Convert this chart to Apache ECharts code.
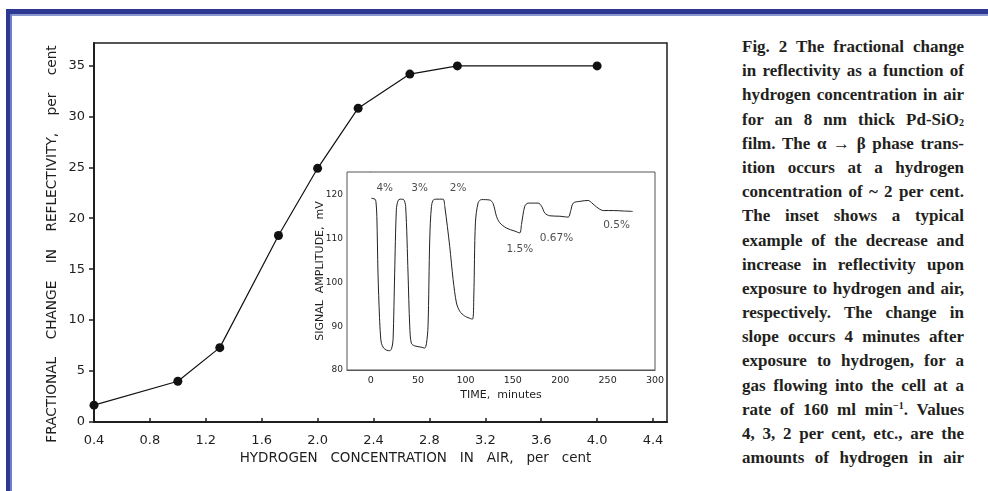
<!DOCTYPE html>
<html>
<head>
<meta charset="utf-8">
<script src="https://cdn.jsdelivr.net/npm/echarts@6/dist/echarts.min.js"></script>
<style>
  body { margin: 0; background: #fff; }
  .page { position: relative; width: 988px; height: 491px; overflow: hidden; background: #fff; }
  .bar-top { position: absolute; left: 6px; top: 9px; width: 982px; height: 5px; background: #2d3892; }
  .bar-top-edge { position: absolute; left: 10px; top: 14px; width: 978px; height: 2px; background: #8b97cf; }
  .bar-left { position: absolute; left: 6px; top: 9px; width: 4px; height: 482px; background: #2d3892; }
  .bar-left-edge { position: absolute; left: 10px; top: 14px; width: 2px; height: 477px; background: #6f7fc6; }
  #chart { position: absolute; left: 0; top: 0; width: 740px; height: 491px; }
  .caption {
    position: absolute; left: 742px; top: 35px; width: 222px;
    font-family: "Liberation Serif", "DejaVu Serif", serif; font-weight: bold;
    font-size: 17px; line-height: 24.2px; color: #231f20;
  }
  .caption div { text-align: justify; text-align-last: justify; height: 24.2px; white-space: nowrap; }
  .caption sub { font-size: 10px; vertical-align: -1px; line-height: 0; }
  .caption sup { font-size: 10px; vertical-align: 6px; line-height: 0; }
</style>
</head>
<body>
<div class="page">
  <div class="bar-top"></div>
  <div class="bar-top-edge"></div>
  <div class="bar-left"></div>
  <div class="bar-left-edge"></div>
  <div id="chart"></div>
  <div class="caption">
    <div>Fig. 2 The fractional change</div>
    <div>in reflectivity as a function of</div>
    <div>hydrogen concentration in air</div>
    <div>for an 8 nm thick Pd-SiO<sub>2</sub></div>
    <div>film. The &alpha; &rarr; &beta; phase trans-</div>
    <div>ition occurs at a hydrogen</div>
    <div>concentration of ~ 2 per cent.</div>
    <div>The inset shows a typical</div>
    <div>example of the decrease and</div>
    <div>increase in reflectivity upon</div>
    <div>exposure to hydrogen and air,</div>
    <div>respectively. The change in</div>
    <div>slope occurs 4 minutes after</div>
    <div>exposure to hydrogen, for a</div>
    <div>gas flowing into the cell at a</div>
    <div>rate of 160 ml min<sup>&minus;1</sup>. Values</div>
    <div>4, 3, 2 per cent, etc., are the</div>
    <div>amounts of hydrogen in air</div>
  </div>
</div>

<script>
// main plot: hydrogen concentration (per cent) vs fractional change in reflectivity (per cent)
var hConc = [0.4, 1.0, 1.3, 1.72, 2.0, 2.29, 2.66, 3.0, 4.0];
var reflChange = [1.65, 4.0, 7.3, 18.3, 24.9, 30.8, 34.15, 34.95, 34.95];
var hTicks = [0.4, 0.8, 1.2, 1.6, 2.0, 2.4, 2.8, 3.2, 3.6, 4.0, 4.4];
var reflTicks = [0, 5, 10, 15, 20, 25, 30, 35];

// inset: signal amplitude (mV) vs time (minutes)
var timeMin = [0.7, 4.5, 5.5, 6.5, 7.7, 9.3, 10.3, 11.3, 13.7, 17, 20.1, 22.2, 23.6, 25.3, 27.1, 28.9,
  31.3, 34.8, 36.9, 39.4, 41.2, 42.9, 46.5, 53.5, 57.0, 58.8, 60.5, 62.3, 64.1, 66.5, 71.1, 76.4,
  78.2, 83.4, 87.0, 90.5, 94.0, 99.3, 107.4, 108.8, 110.5, 113.4, 116.9, 125.7, 129.2, 132.7,
  136.2, 143.3, 152.1, 157.3, 159.1, 162.6, 166.2, 176.7, 180.3, 183.8, 189.1, 199.6, 208.4,
  210.9, 213.7, 220.8, 229.6, 233.1, 238.4, 245.4, 256.0, 266.5, 276.4];
var signalMv = [119.2, 119.0, 118.5, 115.0, 102.1, 92.0, 88.0, 86.1, 85.0, 84.5, 84.4, 85.0, 86.9, 102.1, 116.6, 118.7,
  119.0, 118.9, 117.3, 102.1, 90.0, 86.1, 85.5, 85.2, 85.0, 86.0, 90.0, 109.7, 117.3, 118.9, 119.0, 119.0,
  117.3, 108.2, 100.6, 95.3, 93.4, 92.3, 91.6, 96.9, 113.6, 118.2, 118.9, 118.8, 118.0, 115.1,
  113.6, 112.4, 111.7, 111.3, 113.2, 117.4, 118.1, 118.1, 117.4, 115.8, 115.2, 115.1, 114.9,
  116.2, 118.1, 118.5, 118.7, 118.2, 117.2, 116.4, 116.4, 116.3, 116.2];
var timeTicks = [0, 50, 100, 150, 200, 250, 300];
var timeMinorTicks = [-20, -10, 0, 10, 20, 30, 40, 50, 60, 70, 80, 90, 100, 110, 120, 130, 140, 150,
  160, 170, 180, 190, 200, 210, 220, 230, 240, 250, 260, 270, 280, 290];
var mvTicks = [80, 90, 100, 110, 120];

// inset annotations: label, time, mV
var noteText = ['4%', '3%', '2%', '1.5%', '0.67%', '0.5%'];
var noteTime = [14.8, 51.7, 92.2, 157.3, 196, 259.4];
var noteMv = [121.4, 121.4, 121.4, 107.6, 110.1, 113.1];

var ink = '#1e1e1e';
var font = '"DejaVu Sans", sans-serif';

var mainData = hConc.map(function (x, i) { return [x, reflChange[i]]; });
var insetData = timeMin.map(function (t, i) { return [t, signalMv[i]]; });
var noteData = noteText.map(function (s, i) { return { value: [noteTime[i], noteMv[i]], name: s }; });

var myChart = echarts.init(document.getElementById('chart'));
myChart.setOption({
  animation: false,
  backgroundColor: 'transparent',
  grid: [
    { left: 94, top: 43, width: 573, height: 379, show: true, borderColor: ink, borderWidth: 1.5, backgroundColor: 'transparent' },
    { left: 347, top: 172, width: 308, height: 198, show: true, borderColor: '#555', borderWidth: 1, backgroundColor: '#fff', z: 3 }
  ],
  xAxis: [
    {
      gridIndex: 0, type: 'value', min: 0.4, max: 4.5,
      name: 'HYDROGEN   CONCENTRATION   IN   AIR,   per   cent',
      nameLocation: 'middle', nameGap: 29, nameMoveOverlap: false,
      nameTextStyle: { fontFamily: font, fontSize: 13.5, color: ink, padding: [0, 0, 0, 70] },
      axisLine: { lineStyle: { color: ink, width: 2 } },
      axisTick: { inside: true, length: 4, lineStyle: { color: ink, width: 1.5 }, customValues: hTicks },
      axisLabel: { margin: 12, fontFamily: font, fontSize: 13, color: ink, customValues: hTicks,
        formatter: function (v) { return v.toFixed(1); } },
      splitLine: { show: false }
    },
    {
      gridIndex: 1, type: 'value', min: -25, max: 300,
      name: 'TIME,  minutes', nameLocation: 'middle', nameGap: 20, nameMoveOverlap: false,
      nameTextStyle: { fontFamily: font, fontSize: 11, color: ink },
      axisLine: { lineStyle: { color: '#555', width: 1 } },
      axisTick: { inside: true, length: 2.5, lineStyle: { color: '#555', width: 1 }, customValues: timeMinorTicks },
      axisLabel: { margin: 6, fontFamily: font, fontSize: 9.5, color: ink, customValues: timeTicks },
      splitLine: { show: false }
    }
  ],
  yAxis: [
    {
      gridIndex: 0, type: 'value', min: 0, max: 37.2,
      name: 'FRACTIONAL    CHANGE    IN    REFLECTIVITY,    per    cent',
      nameLocation: 'middle', nameGap: 35, nameMoveOverlap: false,
      nameTextStyle: { fontFamily: font, fontSize: 13.7, color: ink, padding: [0, 23, 0, 0] },
      axisLine: { lineStyle: { color: ink, width: 2 } },
      axisTick: { inside: false, length: 5, lineStyle: { color: ink, width: 1.5 }, customValues: reflTicks },
      axisLabel: { margin: 9, fontFamily: font, fontSize: 13, color: ink, customValues: reflTicks },
      splitLine: { show: false }
    },
    {
      gridIndex: 1, type: 'value', min: 80, max: 125.2,
      name: 'SIGNAL  AMPLITUDE,  mV', nameLocation: 'middle', nameGap: 21, nameMoveOverlap: false,
      nameTextStyle: { fontFamily: font, fontSize: 11, color: ink },
      axisLine: { lineStyle: { color: '#555', width: 1 } },
      axisTick: { inside: false, length: 3, lineStyle: { color: '#555', width: 1 }, customValues: mvTicks },
      axisLabel: { margin: 4, fontFamily: font, fontSize: 9, color: ink, customValues: mvTicks },
      splitLine: { show: false }
    }
  ],
  series: [
    {
      type: 'line', xAxisIndex: 0, yAxisIndex: 0, data: mainData,
      symbol: 'circle', symbolSize: 9,
      itemStyle: { color: '#111' },
      lineStyle: { color: '#111', width: 1.2 }
    },
    {
      type: 'line', xAxisIndex: 1, yAxisIndex: 1, data: insetData, z: 4,
      symbol: 'none', smooth: 0.3,
      lineStyle: { color: '#222', width: 1 }
    },
    {
      type: 'scatter', xAxisIndex: 1, yAxisIndex: 1, data: noteData, z: 5,
      symbolSize: 0,
      label: { show: true, position: 'inside', formatter: '{b}', fontFamily: font, fontSize: 10.5, color: ink }
    }
  ]
});
</script>
</body>
</html>
